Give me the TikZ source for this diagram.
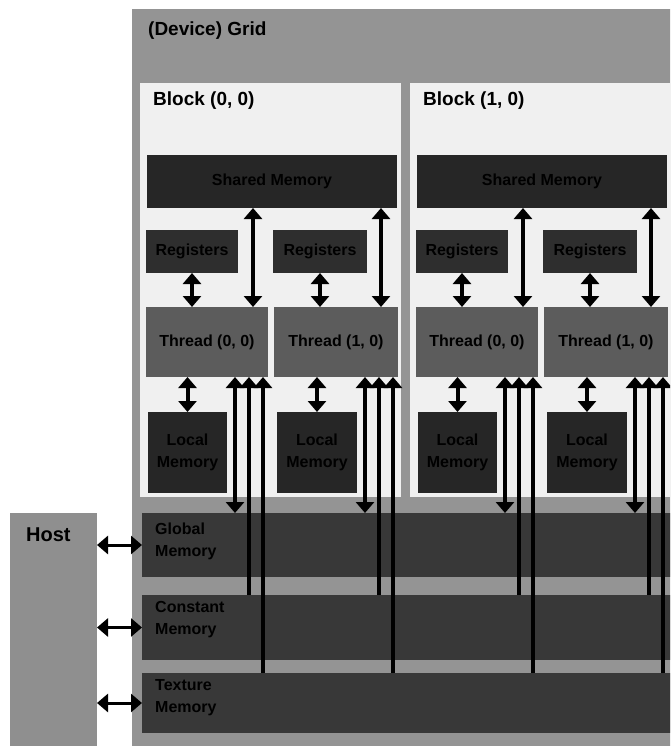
\documentclass[tikz,border=0pt]{standalone}
\usepackage{fontspec}
\setmainfont{Liberation Sans}
\usetikzlibrary{arrows.meta}
\definecolor{gridc}{gray}{0.58}
\definecolor{blockc}{gray}{0.94}
\definecolor{smc}{gray}{0.15}
\definecolor{regc}{gray}{0.18}
\definecolor{thc}{gray}{0.36}
\definecolor{locc}{gray}{0.15}
\definecolor{memc}{gray}{0.22}
\definecolor{hostc}{gray}{0.56}
\begin{document}
\begin{tikzpicture}[x=1pt,y=-1pt,
  box/.style={draw=none,anchor=north west,inner sep=0pt,outer sep=0pt},
  lbl/.style={font=\bfseries\fontsize{16}{22}\selectfont,text=black,inner sep=0pt},
  ttl/.style={font=\bfseries\fontsize{19}{21}\selectfont,text=black,inner sep=0pt,anchor=west},
  dbl/.style={line width=4pt,{Triangle[width=18pt,length=11pt]}-{Triangle[width=18pt,length=11pt]}},
  upar/.style={line width=4pt,{Triangle[width=18pt,length=11pt]}-},
  harr/.style={line width=3pt,{Triangle[width=18pt,length=11pt]}-{Triangle[width=18pt,length=11pt]}},
]
\clip (0,0) rectangle (670,746);
\fill[white] (0,0) rectangle (670,746);
% grid
\node[box,fill=gridc,minimum width=560pt,minimum height=760pt] (grid) at (132,9) {};
\node[ttl] (gtitle) at (148,31) {(Device) Grid};
% host
\node[box,fill=hostc,minimum width=87pt,minimum height=250pt] (host) at (10,513) {};
\node[ttl,font=\bfseries\fontsize{20}{22}\selectfont] (hosttxt) at (26,535) {Host};
% memories
\node[box,fill=memc,minimum width=540pt,minimum height=64pt] (gm) at (142,513) {};
\node[box,fill=memc,minimum width=540pt,minimum height=65pt] (cm) at (142,595) {};
\node[box,fill=memc,minimum width=540pt,minimum height=60pt] (tm) at (142,673) {};
\node[lbl,align=left,anchor=west] (gmt) at (155,541) {Global\\Memory};
\node[lbl,align=left,anchor=west] (cmt) at (155,620) {Constant\\Memory};
\node[lbl,align=left,anchor=west] (tmt) at (155,698) {Texture\\Memory};
% host arrows
\draw[harr] (host.east |- gm.west) -- (gm.west);
\draw[harr] (host.east |- cm.west) -- (cm.west);
\draw[harr] (host.east |- tm.west) -- (tm.west);
% blocks
\foreach \b/\dx/\bt in {0/0/{Block (0, 0)},1/270/{Block (1, 0)}}{
\begin{scope}[xshift=\dx pt]
  \node[box,fill=blockc,minimum width=261pt,minimum height=414pt] (blk\b) at (140,83) {};
  \node[ttl] (bt\b) at (153,101) {\bt};
  \node[box,fill=smc,minimum width=250pt,minimum height=53pt] (sm\b) at (147,155) {};
  \node[lbl] (smt\b) at (sm\b.center) {Shared Memory};
  \node[box,fill=regc,minimum width=92pt,minimum height=43pt] (ra\b) at (146,230) {};
  \node[lbl] (rat\b) at (ra\b.center) {Registers};
  \node[box,fill=regc,minimum width=94pt,minimum height=43pt] (rb\b) at (273,230) {};
  \node[lbl] (rbt\b) at (rb\b.center) {Registers};
  \node[box,fill=thc,minimum width=122pt,minimum height=70pt] (ta\b) at (146,307) {};
  \node[lbl] (tat\b) at (ta\b.center) {Thread (0, 0)};
  \node[box,fill=thc,minimum width=124pt,minimum height=70pt] (tb\b) at (274,307) {};
  \node[lbl] (tbt\b) at (tb\b.center) {Thread (1, 0)};
  \node[box,fill=locc,minimum width=79pt,minimum height=81pt] (la\b) at (148,412) {};
  \node[lbl,align=center] (lat\b) at (la\b.center) {Local\\Memory};
  \node[box,fill=locc,minimum width=80pt,minimum height=81pt] (lb\b) at (277,412) {};
  \node[lbl,align=center] (lbt\b) at (lb\b.center) {Local\\Memory};
  % arrows inside block
  \draw[dbl] ([xshift=-19pt]sm\b.south) -- ([xshift=-19pt]sm\b.south |- ta\b.north);
  \draw[dbl] ([xshift=109pt]sm\b.south) -- ([xshift=109pt]sm\b.south |- tb\b.north);
  \draw[dbl] (ra\b.south) -- (ra\b.south |- ta\b.north);
  \draw[dbl] (rb\b.south) -- (rb\b.south |- tb\b.north);
  \draw[dbl] (la\b.north |- ta\b.south) -- (la\b.north);
  \draw[dbl] (lb\b.north |- tb\b.south) -- (lb\b.north);
  % long arrows to device memories
  \foreach \t in {ta,tb}{
    \draw[dbl] ([xshift=-33pt]\t\b.south east) -- ([xshift=-33pt]\t\b.south east |- gm.north);
    \draw[upar] ([xshift=-19pt]\t\b.south east) -- ([xshift=-19pt]\t\b.south east |- cm.north);
    \draw[upar] ([xshift=-5pt]\t\b.south east) -- ([xshift=-5pt]\t\b.south east |- tm.north);
  }
\end{scope}
}
\end{tikzpicture}
\end{document}
